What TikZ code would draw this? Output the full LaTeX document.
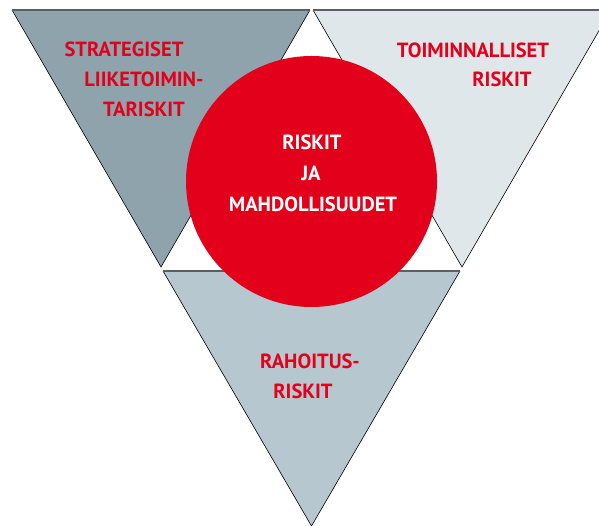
\documentclass[tikz,border=0pt]{standalone}
\usepackage{fontspec}
\setmainfont{PT Sans}
\definecolor{rred}{HTML}{E2001A}
\definecolor{triA}{HTML}{8FA3AD}
\definecolor{triB}{HTML}{E0E7EA}
\definecolor{triC}{HTML}{B6C7CF}
\definecolor{topline}{HTML}{5A5F62}
\begin{document}
\begin{tikzpicture}[x=1pt,y=-1pt,
  side/.style={draw=black,line width=0.6pt},
  topedge/.style={draw=topline,line width=1.3pt},
  lbl/.style={anchor=base,inner sep=0pt,font=\fontsize{20.5}{20.5}\selectfont\bfseries,text=rred},
  wlbl/.style={lbl,text=white}]
\useasboundingbox (0,0) rectangle (599,526);
\clip (0,0) rectangle (599,526);
% left triangle
\coordinate (l1) at (12,10); \coordinate (l2) at (310,10); \coordinate (l3) at (161,267);
\fill[triA] (l1) -- (l2) -- (l3) -- cycle;
\draw[side] (l1) -- (l3) -- (l2);
\draw[topedge] (l1) -- (l2);
% right triangle
\coordinate (r1) at (313,10); \coordinate (r2) at (611,10); \coordinate (r3) at (462,267);
\fill[triB] (r1) -- (r2) -- (r3) -- cycle;
\draw[side] (r1) -- (r3) -- (r2);
\draw[topedge] (r1) -- (r2);
% bottom triangle
\coordinate (b1) at (163,271); \coordinate (b2) at (460,271); \coordinate (b3) at (311.5,526);
\fill[triC] (b1) -- (b2) -- (b3) -- cycle;
\draw[side] (b1) -- (b3) -- (b2);
\draw[topedge] (b1) -- (b2);
% circle
\fill[rred] (311.5,181.5) circle (125.5);
% labels
\node[lbl] (s1) at (124,57) {STRATEGISET};
\node[lbl] (s2) at (144,87) {LIIKETOIMIN-};
\node[lbl] (s3) at (144,117) {TARISKIT};
\node[lbl] (t1) at (473,58) {TOIMINNALLISET};
\node[lbl] (t2) at (502,87) {RISKIT};
\node[wlbl] (c1) at (312,150) {RISKIT};
\node[wlbl] (c2) at (311,181) {JA};
\node[wlbl] (c3) at (313,212) {MAHDOLLISUUDET};
\node[lbl] (h1) at (310,368) {RAHOITUS-};
\node[lbl] (h2) at (303,398) {RISKIT};
\end{tikzpicture}
\end{document}
